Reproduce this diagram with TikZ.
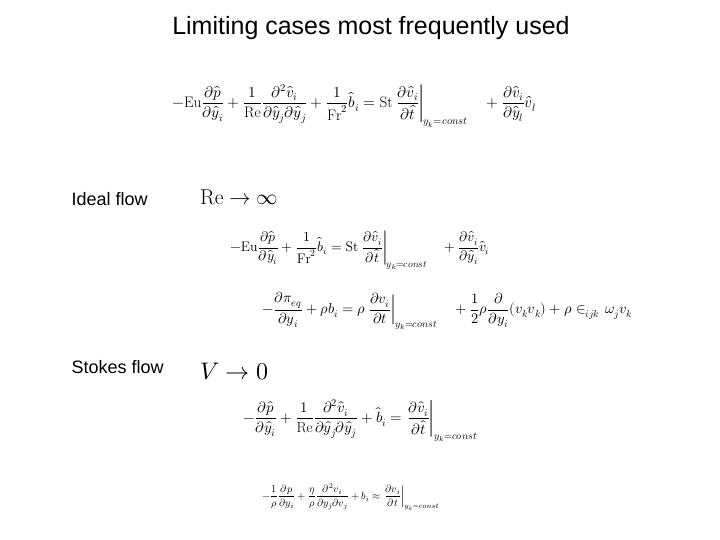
\documentclass[tikz,border=0pt]{standalone}
\usepackage{amsmath}
\usepackage{fontspec}
\setmainfont{Liberation Sans}
\usepackage{unicode-math}
\setmathfont{Latin Modern Math}
\setmathrm{Latin Modern Roman}
\newcommand{\pd}[2]{\dfrac{\partial #1}{\partial #2}}
\begin{document}
\begin{tikzpicture}[x=1pt,y=-1pt,
  lab/.style={anchor=west,font=\fontsize{18}{20}\selectfont},
  eq/.style={inner sep=0pt}]
\useasboundingbox (0,0) rectangle (720,540);
\node[font=\fontsize{25}{28}\selectfont] (title) at (371,28) {Limiting cases most frequently used};
\node[eq,anchor=west,font=\fontsize{15.2}{17}\selectfont] (e1) at (172,106)
 {$-\mathrm{Eu}\pd{\hat p}{\hat y_i}+\dfrac{1}{\mathrm{Re}}\dfrac{\partial^2\hat v_i}{\partial\hat y_j\partial\hat y_j}+\dfrac{1}{\mathrm{Fr}^2}\hat b_i=\mathrm{St}\left.\pd{\hat v_i}{\hat t}\right|_{y_k=const}\quad+\pd{\hat v_i}{\hat y_l}\hat v_l$};
\node[lab] (ideal) at (68,199) {Ideal flow};
\node[eq,anchor=west,font=\fontsize{21.5}{24}\selectfont] (re) at (200,197) {$\mathrm{Re}\rightarrow\infty$};
\node[eq,anchor=west,font=\fontsize{13.8}{16}\selectfont] (e2) at (230,250)
 {$-\mathrm{Eu}\pd{\hat p}{\hat y_i}+\dfrac{1}{\mathrm{Fr}^2}\hat b_i=\mathrm{St}\left.\pd{\hat v_i}{\hat t}\right|_{y_k=const}\quad+\pd{\hat v_i}{\hat y_i}\hat v_i$};
\node[eq,anchor=west,font=\fontsize{14.5}{16}\selectfont] (e3) at (262,311)
 {$-\pd{\pi_{eq}}{y_i}+\rho b_i=\rho\left.\pd{v_i}{t}\right|_{y_k=const}\quad+\dfrac12\rho\dfrac{\partial}{\partial y_i}(v_kv_k)+\rho\in_{ijk}\,\omega_jv_k$};
\node[lab] (stokes) at (68,367) {Stokes flow};
\node[eq,anchor=west,font=\fontsize{24}{26}\selectfont] (v0) at (200,372) {$V\rightarrow 0$};
\node[eq,anchor=west,font=\fontsize{14.8}{17}\selectfont] (e4) at (243,421)
 {$-\pd{\hat p}{\hat y_i}+\dfrac{1}{\mathrm{Re}}\dfrac{\partial^2\hat v_i}{\partial\hat y_j\partial\hat y_j}+\hat b_i=\left.\pd{\hat v_i}{\hat t}\right|_{y_k=const}$};
\node[eq,anchor=west,font=\fontsize{10.4}{12}\selectfont] (e5) at (262,497)
 {$-\dfrac{1}{\rho}\pd{p}{y_i}+\dfrac{\eta}{\rho}\dfrac{\partial^2 v_i}{\partial y_j\partial v_j}+b_i\approx\left.\pd{v_i}{t}\right|_{y_k=const}$};
\end{tikzpicture}
\end{document}
